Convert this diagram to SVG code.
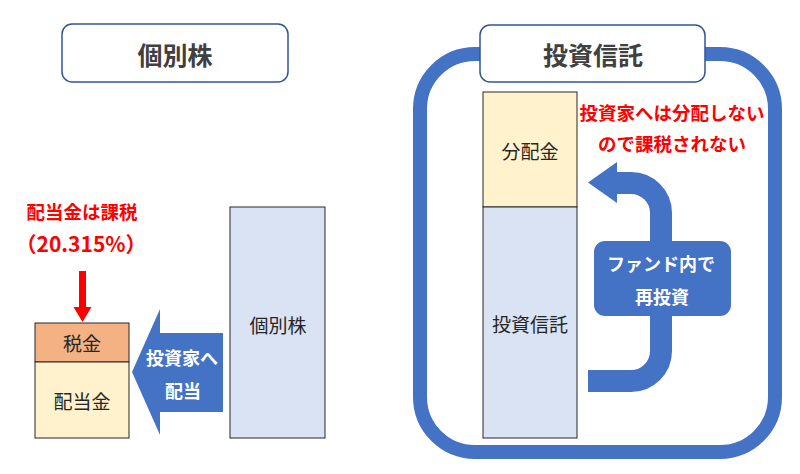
<svg xmlns="http://www.w3.org/2000/svg" width="800" height="474" viewBox="0 0 800 474">
<style>
text{font-family:"Noto Sans CJK JP","Noto Sans",sans-serif;text-anchor:middle;dominant-baseline:central}
.title{font-size:25px;font-weight:bold;fill:#404040}
.body{font-size:19px;fill:#262626}
.red{font-size:18.5px;font-weight:bold;fill:#ff0000}
.white{font-size:18px;font-weight:bold;fill:#ffffff}
.tbox{fill:#ffffff;stroke:#2f5597;stroke-width:1.5}
.bar{stroke:#262626;stroke-width:1}
</style>
<rect width="800" height="474" fill="#ffffff"/>
<g id="frame">
<rect x="420" y="54" width="355" height="398" rx="55" fill="none" stroke="#4472c4" stroke-width="14"/>
</g>
<g id="title-left">
<rect class="tbox" x="62" y="24" width="226" height="58" rx="10"/>
<text class="title" x="175" y="54">個別株</text>
</g>
<g id="title-right">
<rect class="tbox" x="480" y="25" width="225" height="57" rx="10"/>
<text class="title" x="593" y="54">投資信託</text>
</g>
<g id="tax-note">
<text class="red" x="82" y="211">配当金は課税</text>
<text class="red" x="81" y="243" style="font-size:21px">（20.315%）</text>
</g>
<g id="stack-left">
<rect class="bar" x="35" y="323" width="94" height="39" fill="#f4b183"/>
<text class="body" x="82" y="342">税金</text>
<rect class="bar" x="35" y="362" width="94" height="76" fill="#fff2cc"/>
<text class="body" x="82" y="400">配当金</text>
</g>
<g id="stock">
<rect class="bar" x="230" y="207" width="95" height="231" fill="#dae3f3"/>
<text class="body" x="278" y="324">個別株</text>
</g>
<g id="fund-bar">
<rect class="bar" x="483" y="92" width="94" height="115" fill="#fff2cc"/>
<text class="body" x="530" y="150">分配金</text>
<rect class="bar" x="483" y="207" width="94" height="231" fill="#dae3f3"/>
<text class="body" x="530" y="323">投資信託</text>
</g>
<g id="no-tax-note">
<text class="red" x="672" y="112">投資家へは分配しない</text>
<text class="red" x="672" y="143">ので課税されない</text>
</g>
<g id="connectors">
<path d="M79,271 H86 V307 H91.5 L82.5,322 L73.5,307 H79 Z" fill="#ff0000"/>
<path d="M223,333 H160 V309 L132,372 L160,435 V412 H223 Z" fill="#4472c4"/>
<path d="M588,381 H631 A30,30 0 0 0 661,351 V213 A30,30 0 0 0 631,183 H615" fill="none" stroke="#4472c4" stroke-width="22"/>
<polygon points="617,162 588,182.5 617,203" fill="#4472c4"/>
</g>
<g id="dividend-arrow-label">
<text class="white" x="182" y="357">投資家へ</text>
<text class="white" x="183" y="390">配当</text>
</g>
<g id="reinvest">
<rect x="594" y="241" width="137" height="75" rx="11" fill="#4472c4"/>
<text class="white" x="661" y="263">ファンド内で</text>
<text class="white" x="662" y="296">再投資</text>
</g>
</svg>
